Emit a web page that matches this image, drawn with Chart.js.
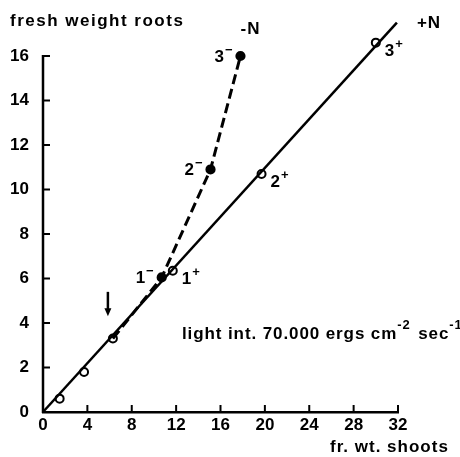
<!DOCTYPE html>
<html>
<head>
<meta charset="utf-8">
<script src="https://cdn.jsdelivr.net/npm/chart.js@4.4.0/dist/chart.umd.min.js"></script>
<style>
  html, body { margin: 0; padding: 0; background: #fff; }
  canvas { display: block; }
</style>
</head>
<body>
<canvas id="chart" width="460" height="457"></canvas>
<script>
const xTicks = [0, 4, 8, 12, 16, 20, 24, 28, 32];
const yTicks = [0, 2, 4, 6, 8, 10, 12, 14, 16];

// +N : open circles on a straight line
const plusX = [1.5, 3.7, 6.3, 11.7, 19.7, 30.0];
const plusY = [0.6, 1.8, 3.3, 6.35, 10.7, 16.6];
const plusNums = ['', '', '', '1', '2', '3'];
const plusLineX = [0, 31.9];
const plusLineY = [0, 17.5];

// -N : filled points, dashed
const minusX = [6.3, 10.7, 15.1, 17.8];
const minusY = [3.3, 6.05, 10.9, 16.0];
const minusNums = ['', '1', '2', '3'];

const arrowX = 5.85;
const arrowY = [5.4, 4.3];

const FONT = "'Liberation Sans', Arial, sans-serif";

function pts(xs, ys) {
  return xs.map((x, i) => ({ x: x, y: ys[i] }));
}

// draw "3" + small raised sign
function supText(ctx, base, sup, x, y, align) {
  ctx.font = 'bold 17px ' + FONT;
  const w1 = ctx.measureText(base).width;
  ctx.font = 'bold 13px ' + FONT;
  const w2 = ctx.measureText(sup).width;
  let left = align === 'right' ? x - w1 - w2 - 1 : x;
  ctx.font = 'bold 17px ' + FONT;
  ctx.fillText(base, left, y);
  ctx.font = 'bold 13px ' + FONT;
  ctx.fillText(sup, left + w1 + 1, y - 8);
}

const extras = {
  id: 'extras',
  afterDraw(chart) {
    const ctx = chart.ctx;
    const xs = chart.scales.x, ys = chart.scales.y;
    const area = chart.chartArea;
    ctx.save();
    ctx.fillStyle = '#000';
    ctx.strokeStyle = '#000';

    // y axis line, only up to the last tick
    const yTop = ys.getPixelForValue(yTicks[yTicks.length - 1]);
    ctx.lineWidth = 2.5;
    ctx.beginPath(); ctx.moveTo(area.left, area.bottom + 1); ctx.lineTo(area.left, yTop - 1); ctx.stroke();

    // inward tick marks
    ctx.lineWidth = 2;
    yTicks.forEach(v => {
      const py = ys.getPixelForValue(v);
      ctx.beginPath(); ctx.moveTo(area.left, py); ctx.lineTo(area.left + 7, py); ctx.stroke();
    });
    xTicks.forEach(v => {
      const px = xs.getPixelForValue(v);
      ctx.beginPath(); ctx.moveTo(px, area.bottom); ctx.lineTo(px, area.bottom - 7); ctx.stroke();
    });

    // axis titles
    ctx.textBaseline = 'alphabetic';
    ctx.textAlign = 'left';
    ctx.font = 'bold 17px ' + FONT;
    ctx.letterSpacing = '1.5px';
    ctx.fillText('fresh weight roots', 10, 26);
    ctx.letterSpacing = '1px';
    ctx.fillText('fr. wt. shoots', 330, 452);
    ctx.letterSpacing = '0px';

    // series names
    const mEnd = { x: xs.getPixelForValue(minusX[minusX.length - 1]), y: ys.getPixelForValue(minusY[minusY.length - 1]) };
    const pEnd = { x: xs.getPixelForValue(plusLineX[1]), y: ys.getPixelForValue(plusLineY[1]) };
    ctx.font = 'bold 17px ' + FONT;
    ctx.letterSpacing = '1px';
    ctx.fillText('-N', mEnd.x, mEnd.y - 22);
    ctx.fillText('+N', pEnd.x + 20, pEnd.y + 5);
    ctx.letterSpacing = '0px';

    // point numbers
    minusNums.forEach((n, i) => {
      if (!n) return;
      const px = xs.getPixelForValue(minusX[i]), py = ys.getPixelForValue(minusY[i]);
      supText(ctx, n, '\u2212', px - 8, py + 6, 'right');
    });
    plusNums.forEach((n, i) => {
      if (!n) return;
      const px = xs.getPixelForValue(plusX[i]), py = ys.getPixelForValue(plusY[i]);
      supText(ctx, n, '+', px + 9, py + 13, 'left');
    });

    // arrow
    const ax = xs.getPixelForValue(arrowX);
    const ay1 = ys.getPixelForValue(arrowY[0]), ay2 = ys.getPixelForValue(arrowY[1]);
    ctx.lineWidth = 2.5;
    ctx.beginPath(); ctx.moveTo(ax, ay1); ctx.lineTo(ax, ay2 - 6); ctx.stroke();
    ctx.beginPath();
    ctx.moveTo(ax - 3.5, ay2 - 8); ctx.lineTo(ax + 3.5, ay2 - 8); ctx.lineTo(ax, ay2); ctx.closePath();
    ctx.fill();

    // light intensity note
    let tx = 182, ty = 339;
    ctx.letterSpacing = '0.9px';
    const parts = [['light int. 70.000 ergs cm', 0], ['-2', 1], [' sec', 0], ['-1', 1]];
    parts.forEach(p => {
      ctx.font = p[1] ? 'bold 13px ' + FONT : 'bold 17px ' + FONT;
      ctx.fillText(p[0], tx, p[1] ? ty - 10 : ty);
      tx += ctx.measureText(p[0]).width + (p[1] ? 2 : 0);
    });
    ctx.restore();
  }
};

new Chart(document.getElementById('chart'), {
  type: 'scatter',
  data: {
    datasets: [
      {
        label: '+N line',
        data: pts(plusLineX, plusLineY),
        showLine: true,
        borderColor: '#000',
        borderWidth: 2.5,
        pointRadius: 0,
        clip: false
      },
      {
        label: '-N',
        data: pts(minusX, minusY),
        showLine: true,
        borderColor: '#000',
        borderWidth: 3,
        borderDash: [10, 5],
        pointRadius: minusX.map((_, i) => i === 0 ? 0 : 3.6),
        pointBackgroundColor: '#000',
        pointBorderColor: '#000',
        clip: false
      },
      {
        label: '+N',
        data: pts(plusX, plusY),
        showLine: false,
        pointRadius: 4,
        pointBorderWidth: 2,
        pointBackgroundColor: '#fff',
        pointBorderColor: '#000',
        clip: false
      }
    ]
  },
  options: {
    responsive: false,
    animation: false,
    layout: { padding: { left: 0, top: 11.5, right: 62, bottom: 0 } },
    plugins: { legend: { display: false }, tooltip: { enabled: false } },
    scales: {
      x: {
        type: 'linear', min: 0, max: 32,
        afterBuildTicks: s => { s.ticks = xTicks.map(v => ({ value: v })); },
        afterFit: s => { s.height = 45; s.paddingLeft = 0; s.paddingRight = 0; },
        grid: { drawOnChartArea: false, drawTicks: false },
        border: { display: true, color: '#000', width: 2.5 },
        ticks: { color: '#000', padding: 3, font: { family: FONT, size: 17, weight: 'bold' } }
      },
      y: {
        type: 'linear', min: 0, max: 18,
        afterBuildTicks: s => { s.ticks = yTicks.map(v => ({ value: v })); },
        afterFit: s => { s.width = 43; s.paddingTop = 0; s.paddingBottom = 0; },
        grid: { drawOnChartArea: false, drawTicks: false },
        border: { display: false },
        ticks: { color: '#000', padding: 14, font: { family: FONT, size: 17, weight: 'bold' } }
      }
    }
  },
  plugins: [extras]
});
</script>
</body>
</html>
